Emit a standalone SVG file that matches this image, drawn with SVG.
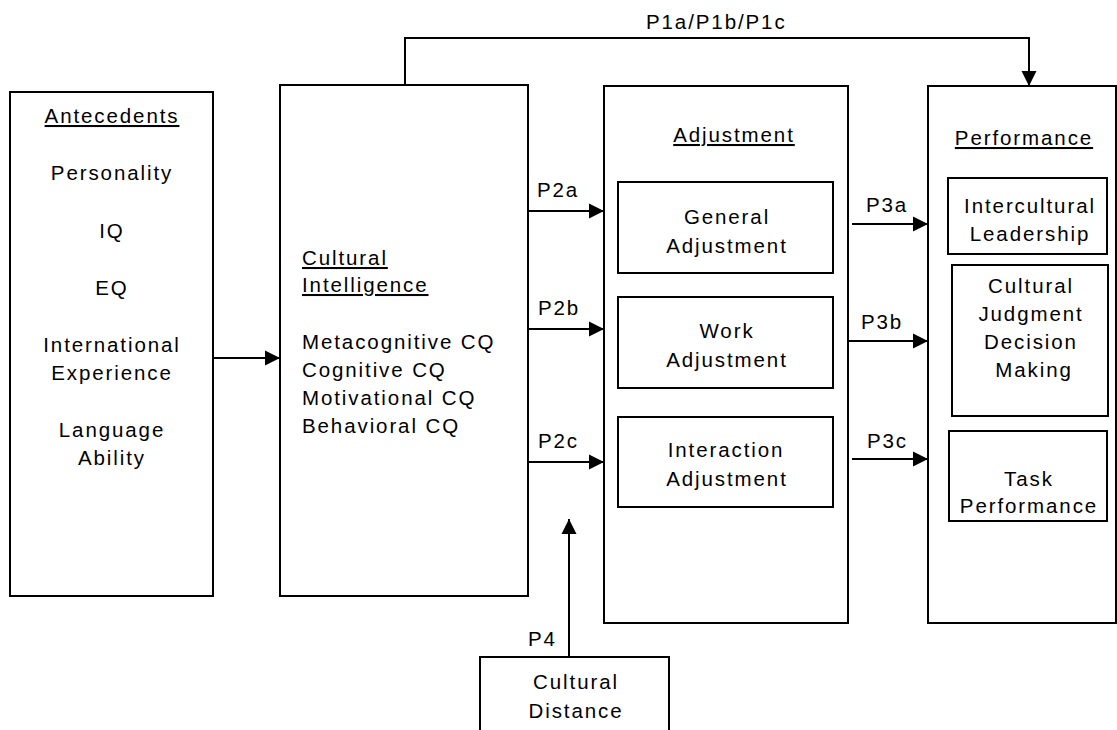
<svg xmlns="http://www.w3.org/2000/svg" width="1117" height="730" viewBox="0 0 1117 730">
<style>
  .box { fill: #fff; stroke: #000; stroke-width: 2; }
  .t { font-family: "Liberation Sans", Arial, sans-serif; font-size: 20.5px; letter-spacing: 1.9px; fill: #000; }
  .c { text-anchor: middle; }
  .u { text-decoration: underline; }
  .conn { fill: none; stroke: #000; stroke-width: 2; }
</style>
<defs>
  <marker id="arr" markerUnits="userSpaceOnUse" markerWidth="16" markerHeight="16" refX="15" refY="8" orient="auto">
    <path d="M0,0.5 L15,8 L0,15.5 z" fill="#000"/>
  </marker>
</defs>
<rect width="1117" height="730" fill="#fff"/>

<g id="antecedents">
  <rect class="box" x="10" y="92" width="203" height="504"/>
  <text class="t c u" x="112" y="123">Antecedents</text>
  <text class="t c" x="112" y="180">Personality</text>
  <text class="t c" x="112" y="238">IQ</text>
  <text class="t c" x="112" y="295">EQ</text>
  <text class="t c" x="112" y="352">International</text>
  <text class="t c" x="112" y="380">Experience</text>
  <text class="t c" x="112" y="437">Language</text>
  <text class="t c" x="112" y="465">Ability</text>
</g>

<g id="cultural-intelligence">
  <rect class="box" x="280" y="85" width="248" height="511"/>
  <text class="t u" x="302" y="265">Cultural</text>
  <text class="t u" x="302" y="292">Intelligence</text>
  <text class="t" x="302" y="349">Metacognitive CQ</text>
  <text class="t" x="302" y="377">Cognitive CQ</text>
  <text class="t" x="302" y="405">Motivational CQ</text>
  <text class="t" x="302" y="433">Behavioral CQ</text>
</g>

<g id="adjustment">
  <rect class="box" x="604" y="86" width="244" height="537"/>
  <text class="t c u" x="734" y="142">Adjustment</text>
</g>
<g id="general-adjustment">
  <rect class="box" x="618" y="182" width="215" height="91"/>
  <text class="t c" x="727" y="224">General</text>
  <text class="t c" x="727" y="253">Adjustment</text>
</g>
<g id="work-adjustment">
  <rect class="box" x="618" y="297" width="215" height="91"/>
  <text class="t c" x="727" y="338">Work</text>
  <text class="t c" x="727" y="367">Adjustment</text>
</g>
<g id="interaction-adjustment">
  <rect class="box" x="618" y="417" width="215" height="90"/>
  <text class="t c" x="726" y="457">Interaction</text>
  <text class="t c" x="727" y="486">Adjustment</text>
</g>

<g id="performance">
  <rect class="box" x="928" y="86" width="188" height="537"/>
  <text class="t c u" x="1024" y="145">Performance</text>
</g>
<g id="intercultural-leadership">
  <rect class="box" x="948" y="178" width="159" height="76"/>
  <text class="t c" x="1030" y="213">Intercultural</text>
  <text class="t c" x="1030" y="241">Leadership</text>
</g>
<g id="cultural-judgment">
  <rect class="box" x="952" y="265" width="156" height="151"/>
  <text class="t c" x="1031" y="293">Cultural</text>
  <text class="t c" x="1031" y="321">Judgment</text>
  <text class="t c" x="1031" y="349">Decision</text>
  <text class="t c" x="1034" y="377">Making</text>
</g>
<g id="task-performance">
  <rect class="box" x="949" y="431" width="158" height="90"/>
  <text class="t c" x="1029" y="486">Task</text>
  <text class="t c" x="1029" y="513">Performance</text>
</g>

<g id="cultural-distance">
  <rect class="box" x="480" y="657" width="189" height="80"/>
  <text class="t c" x="576" y="689">Cultural</text>
  <text class="t c" x="576" y="718">Distance</text>
</g>

<g id="connectors">
  <path class="conn" d="M405,85 V38 H1029 V86" marker-end="url(#arr)"/>
  <line class="conn" x1="213" y1="358" x2="280" y2="358" marker-end="url(#arr)"/>
  <line class="conn" x1="528" y1="211" x2="604" y2="211" marker-end="url(#arr)"/>
  <line class="conn" x1="528" y1="329" x2="604" y2="329" marker-end="url(#arr)"/>
  <line class="conn" x1="528" y1="462" x2="604" y2="462" marker-end="url(#arr)"/>
  <line class="conn" x1="852" y1="224" x2="928" y2="224" marker-end="url(#arr)"/>
  <line class="conn" x1="848" y1="341" x2="928" y2="341" marker-end="url(#arr)"/>
  <line class="conn" x1="852" y1="459" x2="928" y2="459" marker-end="url(#arr)"/>
  <line class="conn" x1="569" y1="657" x2="569" y2="519" marker-end="url(#arr)"/>
  <text class="t" x="646" y="29">P1a/P1b/P1c</text>
  <text class="t" x="537" y="197">P2a</text>
  <text class="t" x="538" y="315">P2b</text>
  <text class="t" x="538" y="448">P2c</text>
  <text class="t" x="866" y="212">P3a</text>
  <text class="t" x="861" y="329">P3b</text>
  <text class="t" x="867" y="448">P3c</text>
  <text class="t" x="528" y="646">P4</text>
</g>
</svg>
